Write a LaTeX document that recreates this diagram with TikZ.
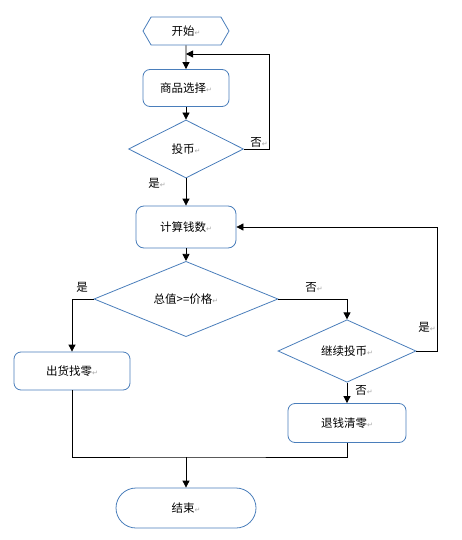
\documentclass[tikz,border=0pt]{standalone}
\usepackage{fontspec}
\setmainfont{Noto Sans CJK SC}
\newfontfamily\symfont{DejaVu Sans}
\usetikzlibrary{shapes.geometric,shapes.symbols,arrows.meta}

\definecolor{boxblue}{RGB}{74,126,187}
\newcommand{\ret}{{\symfont\fontsize{7}{7}\selectfont\color{gray!70}↵}}

\tikzset{
  hexa/.style={draw=boxblue, signal, signal to=west and east, signal pointer angle=120,
    minimum width=86pt, minimum height=28pt, inner sep=0pt},
  box/.style={draw=boxblue, rounded corners=7pt, inner sep=0pt},
  decide/.style={draw=boxblue, diamond, inner sep=0pt},
  stadium/.style={draw=boxblue, rounded corners=20pt, minimum width=140pt, minimum height=40pt},
  lab/.style={inner sep=1pt}
}

\begin{document}
\begin{tikzpicture}[x=1pt,y=-1pt, font=\fontsize{11.5}{14}\selectfont,
    >={Triangle[length=7pt,width=7pt]}, line width=0.8pt]
        \useasboundingbox (0,0) rectangle (462,540);
        \node[hexa] (start) at (186,31) {开始\ret};
        \node[box, minimum width=86pt, minimum height=37pt] (select) at (186,88) {商品选择\ret};
        \node[decide, minimum width=115pt, minimum height=58pt] (coin) at (186,149) {投币\ret};
        \node[box, rounded corners=8pt, minimum width=100pt, minimum height=42pt] (count) at (186,227) {计算钱数\ret};
        \node[decide, minimum width=184pt, minimum height=56pt] (check) at (186,299) {总值>=价格\ret};
        \node[box, minimum width=116pt, minimum height=38pt] (ship) at (72,371) {出货找零\ret};
        \node[decide, minimum width=138pt, minimum height=58pt] (more) at (347,351) {继续投币\ret};
        \node[box, minimum width=118pt, minimum height=39pt] (refund) at (347,423) {退钱清零\ret};
        \node[stadium] (stop) at (186,508) {结束\ret};
        \coordinate (loopA) at (186,54); \coordinate (cornA) at (269,54);
        \coordinate (cornB) at (437,227);
        \coordinate (merge) at (186,457);
        \draw[->] (start) -- (select);
        \draw[->] (select) -- (coin);
        \draw[->] (coin.east) -| (cornA) -- (loopA);
        \draw[->] (coin) -- (count);
        \draw[->] (count) -- (check);
        \draw[->] (check.west) -| (ship.north);
        \draw[->] (check.east) -| (more.north);
        \draw[->] (more.east) -| (cornB) -- (count.east);
        \draw[->] (more) -- (refund);
        \draw (ship.south) |- (merge) -| (refund.south);
        \draw[->] (merge) -- (stop);
        \node[lab] (noA) at (259,142) {否\ret};
        \node[lab] (yesA) at (157,183) {是\ret};
        \node[lab] (yesB) at (82,287) {是};
        \node[lab] (noB) at (314,287) {否\ret};
        \node[lab] (yesC) at (427,327) {是\ret};
        \node[lab] (noC) at (364,390) {否\ret};
    \end{tikzpicture}
\end{document}
